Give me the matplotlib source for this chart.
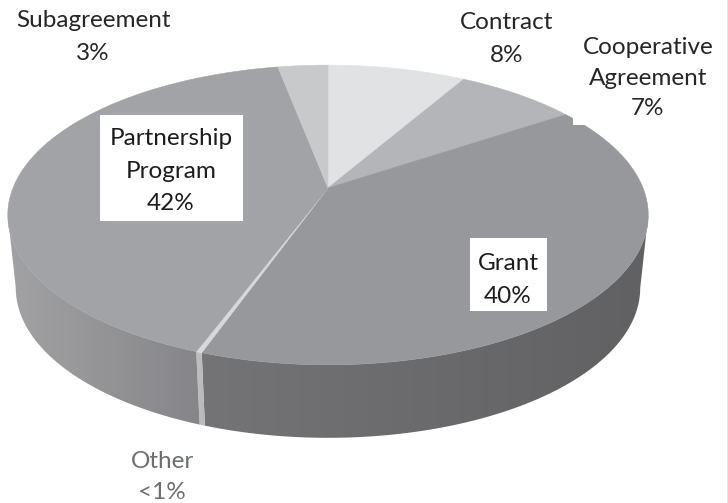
import numpy as np
import matplotlib
matplotlib.use("Agg")
import matplotlib.pyplot as plt
from matplotlib.patches import Polygon, Rectangle

plt.rcParams['font.family'] = ['Lato', 'DejaVu Sans']

names = ['Contract', 'Cooperative Agreement', 'Grant', 'Other', 'Partnership Program', 'Subagreement']
shares = [8.3, 7.3, 39.8, 0.25, 41.35, 3.0]
top_colors = ['#e1e2e4', '#b4b5b8', '#97989b', '#d8d8da', '#a2a3a6', '#c8c9cb']
# wall shade at the left and right end of each slice
wall_shades = [None, None, ('#747476', '#616163'), ('#c0c0c2', '#b8b8ba'), ('#a2a2a4', '#86868a'), None]

label_texts = ['Subagreement\n3%', 'Contract\n8%', 'Cooperative\nAgreement\n7%',
               'Partnership\nProgram\n42%', 'Grant\n40%', 'Other\n<1%']
label_xy = [(93, 37), (507, 39), (648, 78), (171, 171), (508, 280), (162, 477)]
label_colors = ['#262626', '#262626', '#262626', '#1c1c1c', '#1c1c1c', '#6d6e70']
label_spacing = [1.65, 1.65, 1.53, 1.65, 1.7, 1.55]
white_boxes = [(100, 115, 143, 106), (470, 238, 77, 73), (573, 60, 140, 65)]

# projection of the tilted disc into pixels
cx, cy = 328, 188
A, B, k = 315, 145, 0.18
depth = 73
wall_squeeze = 0.975


def rim(theta):
    X, Y = np.sin(theta), np.cos(theta)
    w = 1 + k * Y
    return cx + A * X / w, cy - B * Y / w


fig = plt.figure(figsize=(7.28, 5.03), dpi=100)
ax = fig.add_axes([0, 0, 1, 1])

edges = np.cumsum([0] + shares) / sum(shares) * 2 * np.pi
vis_start, vis_end = np.arccos(-k), 2 * np.pi - np.arccos(-k)

for i in range(len(shares)):
    t = np.linspace(edges[i], edges[i + 1], 80)
    x, y = rim(t)
    ax.add_patch(Polygon(np.column_stack([np.r_[cx, x], np.r_[cy, y]]), closed=True,
                         fc=top_colors[i], ec=top_colors[i], lw=0.4, zorder=3))

    t1, t2 = max(edges[i], vis_start), min(edges[i + 1], vis_end)
    if t2 <= t1 or wall_shades[i] is None:
        continue
    t = np.linspace(t1, t2, 80)
    x, y = rim(t)
    xb = cx + (x - cx) * wall_squeeze
    yb = y + depth
    pts = np.column_stack([np.r_[x, xb[::-1]], np.r_[y, yb[::-1]]])
    poly = Polygon(pts, closed=True, fc='none', ec='none')
    ax.add_patch(poly)
    c0, c1 = [np.array(matplotlib.colors.to_rgb(c)) for c in wall_shades[i]]
    grad = np.linspace(c0, c1, 64)[None, :, :]
    im = ax.imshow(grad, extent=(pts[:, 0].min(), pts[:, 0].max(), pts[:, 1].max(), pts[:, 1].min()),
                   aspect='auto', zorder=2, interpolation='bilinear')
    im.set_clip_path(poly)

for bx, by, bw, bh in white_boxes:
    ax.add_patch(Rectangle((bx, by), bw, bh, fc='white', ec='none', zorder=4))

for txt, (tx, ty), col, sp in zip(label_texts, label_xy, label_colors, label_spacing):
    ax.text(tx, ty, txt, ha='center', va='center', ma='center', fontsize=17.5, color=col,
            linespacing=sp, zorder=5)

# scan edge down the right side of the page
ax.axvline(727.5, color='#8a8a8a', lw=1, zorder=5)

ax.set_xlim(0, 728)
ax.set_ylim(503, 0)
ax.axis('off')
fig.savefig('out.png', dpi=100, facecolor='white')
